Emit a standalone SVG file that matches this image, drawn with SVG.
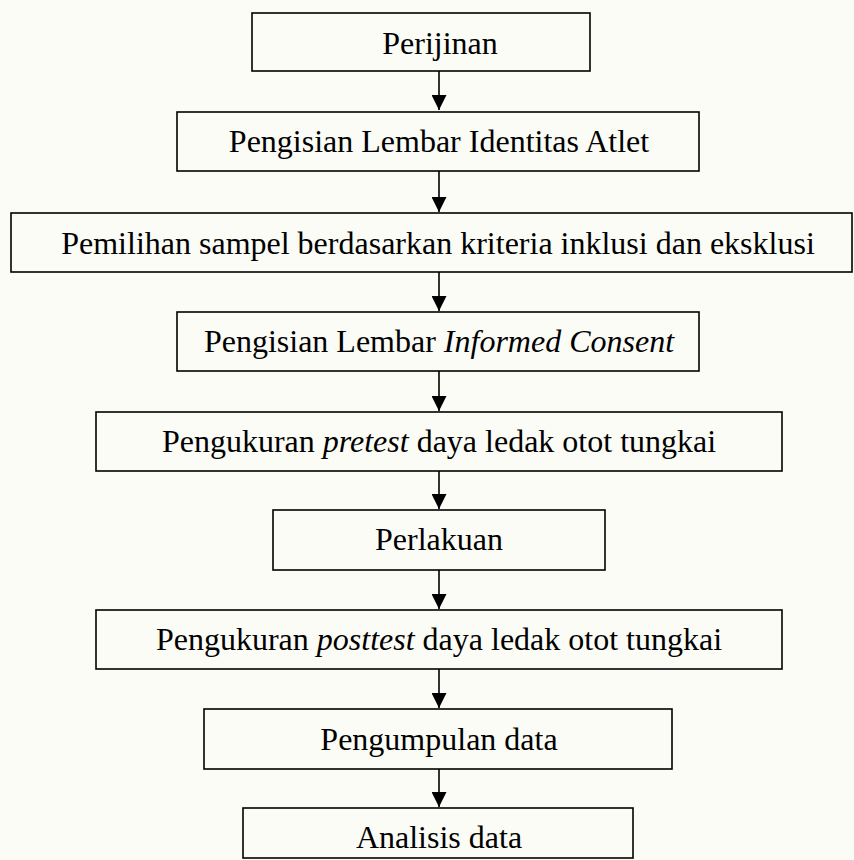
<svg xmlns="http://www.w3.org/2000/svg" width="854" height="860" viewBox="0 0 854 860">
<defs>
<style>
.box{fill:none;stroke:#000;stroke-width:1.6}
.t{font-family:"Liberation Serif","Times New Roman",serif;font-size:32px;fill:#000;text-anchor:middle}
.i{font-style:italic}
.c{stroke:#000;stroke-width:1.6;fill:none}
</style>
<marker id="ah" markerWidth="16" markerHeight="15" refX="15" refY="7.5" orient="auto" markerUnits="userSpaceOnUse">
<path d="M0,0 L15,7.5 L0,15 Z" fill="#000"/>
</marker>
</defs>
<rect x="0" y="0" width="854" height="860" fill="#fcfcf7"/>
<g id="connectors">
<line class="c" x1="439" y1="71" x2="439" y2="110" marker-end="url(#ah)"/>
<line class="c" x1="439" y1="171" x2="439" y2="212" marker-end="url(#ah)"/>
<line class="c" x1="439" y1="272" x2="439" y2="311" marker-end="url(#ah)"/>
<line class="c" x1="439" y1="371" x2="439" y2="411" marker-end="url(#ah)"/>
<line class="c" x1="439" y1="471" x2="439" y2="509" marker-end="url(#ah)"/>
<line class="c" x1="439" y1="570" x2="439" y2="609" marker-end="url(#ah)"/>
<line class="c" x1="439" y1="669" x2="439" y2="708" marker-end="url(#ah)"/>
<line class="c" x1="439" y1="769" x2="439" y2="807" marker-end="url(#ah)"/>
</g>
<g id="n1"><rect class="box" x="252" y="13" width="338" height="58"/><text class="t" x="440" y="54">Perijinan</text></g>
<g id="n2"><rect class="box" x="177" y="112" width="522" height="59"/><text class="t" x="439" y="152">Pengisian Lembar Identitas Atlet</text></g>
<g id="n3"><rect class="box" x="11" y="213" width="841" height="59"/><text class="t" x="438" y="254">Pemilihan sampel berdasarkan kriteria inklusi dan eksklusi</text></g>
<g id="n4"><rect class="box" x="177" y="312" width="522" height="59"/><text class="t" x="439" y="352">Pengisian Lembar <tspan class="i">Informed Consent</tspan></text></g>
<g id="n5"><rect class="box" x="96" y="412" width="686" height="59"/><text class="t" x="439" y="452">Pengukuran <tspan class="i">pretest</tspan> daya ledak otot tungkai</text></g>
<g id="n6"><rect class="box" x="273" y="510" width="332" height="60"/><text class="t" x="439" y="550">Perlakuan</text></g>
<g id="n7"><rect class="box" x="96" y="610" width="686" height="59"/><text class="t" x="439" y="650">Pengukuran <tspan class="i">posttest</tspan> daya ledak otot tungkai</text></g>
<g id="n8"><rect class="box" x="204" y="709" width="468" height="60"/><text class="t" x="439" y="750">Pengumpulan data</text></g>
<g id="n9"><rect class="box" x="243" y="808" width="390" height="50"/><text class="t" x="439" y="848">Analisis data</text></g>
</svg>
